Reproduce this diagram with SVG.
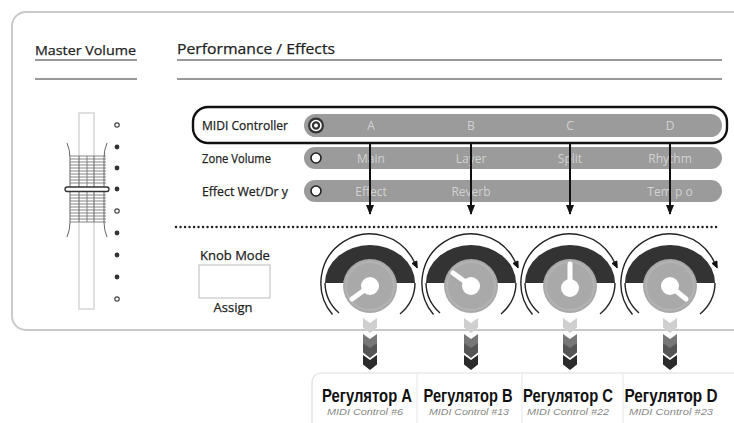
<svg xmlns="http://www.w3.org/2000/svg" width="734" height="423" viewBox="0 0 734 423">
<style>
.hum{font-family:"Open Sans","Noto Sans","DejaVu Sans",sans-serif;fill:#222;stroke:#222;stroke-width:0.25}
.barTxt{font-family:"Open Sans","Noto Sans",sans-serif;font-size:12px;fill:#d2d2d2;text-anchor:middle}
.bar{fill:#9b9b9b}
.thin{fill:none;stroke:#222;stroke-width:1.4}
.reg{font-family:"Liberation Sans Narrow","Liberation Sans",Arial,sans-serif;font-weight:bold;font-size:18px;fill:#111;text-anchor:middle}
.sub{font-family:"Liberation Sans",Arial,sans-serif;font-style:italic;font-size:9.5px;fill:#888;text-anchor:middle}
.dotF{fill:#333}
.dotH{fill:#fff;stroke:#444;stroke-width:1.2}
</style>
<defs>
<marker id="ah" markerWidth="10" markerHeight="8" refX="9" refY="4" orient="auto" markerUnits="userSpaceOnUse">
<path d="M0,0 L10,4 L0,8 Z" fill="#111"/>
</marker>
<g id="knobBase">
<path d="M-45,0 A45,38 0 0 1 45,0 Z" fill="#333"/>
<path d="M-37.5,31.5 A49,49 0 1 1 44.4,-20.7" class="thin"/>
<path d="M-45,0 A45,42 0 0 0 -31,30" class="thin"/>
<path d="M45,0 A45,42 0 0 1 30,31" class="thin"/>
<path d="M47.2,-15 L46.9,-22 L42,-19.6 Z" fill="#111" stroke="#111" stroke-width="1"/>
<circle cx="0" cy="3" r="27" fill="#a9a9a9"/>
<circle cx="0" cy="3" r="24" fill="none" stroke="#b3b3b3" stroke-width="2"/>
</g>
<path id="chev" d="M-7,0 L0,5 L7,0 L7,9.5 L0,15 L-7,9.5 Z"/>
</defs>

<rect x="12" y="12" width="760" height="318" rx="14" fill="#fff" stroke="#c9c9c9" stroke-width="2"/>

<g id="headers">
<text x="35" y="55" class="hum" font-size="13.5" textLength="101" lengthAdjust="spacingAndGlyphs">Master Volume</text>
<line x1="35" y1="60" x2="137" y2="60" stroke="#333" stroke-width="1"/>
<line x1="35" y1="79" x2="137" y2="79" stroke="#333" stroke-width="1"/>
<text x="177" y="54" class="hum" font-size="14.5" textLength="158" lengthAdjust="spacingAndGlyphs">Performance / Effects</text>
<line x1="177" y1="60" x2="722" y2="60" stroke="#333" stroke-width="1"/>
<line x1="177" y1="79" x2="722" y2="79" stroke="#333" stroke-width="1"/>
</g>

<g id="fader">
<rect x="79" y="113" width="15" height="196" fill="#fff" stroke="#ccc" stroke-width="1.2"/>
<g stroke="#777" stroke-width="0.9">
<line x1="70" y1="156" x2="106" y2="156"/><line x1="70" y1="159" x2="106" y2="159"/>
<line x1="70" y1="162" x2="106" y2="162"/><line x1="70" y1="165" x2="106" y2="165"/>
<line x1="70" y1="168" x2="106" y2="168"/><line x1="70" y1="171" x2="106" y2="171"/>
<line x1="70" y1="174" x2="106" y2="174"/><line x1="70" y1="177" x2="106" y2="177"/>
<line x1="70" y1="180" x2="106" y2="180"/><line x1="70" y1="183" x2="106" y2="183"/>
<line x1="70" y1="195" x2="106" y2="195"/><line x1="70" y1="198" x2="106" y2="198"/>
<line x1="70" y1="201" x2="106" y2="201"/><line x1="70" y1="204" x2="106" y2="204"/>
<line x1="70" y1="207" x2="106" y2="207"/><line x1="70" y1="210" x2="106" y2="210"/>
<line x1="70" y1="213" x2="106" y2="213"/><line x1="70" y1="216" x2="106" y2="216"/>
<line x1="70" y1="219" x2="106" y2="219"/><line x1="70" y1="222" x2="106" y2="222"/>
<line x1="87" y1="156" x2="87" y2="222"/>
<line x1="79" y1="156" x2="79" y2="222"/>
<line x1="94" y1="156" x2="94" y2="222"/>
</g>
<path d="M67,143 Q70,150 70,158 L70,222 Q70,230 67,237" fill="none" stroke="#666" stroke-width="1"/>
<path d="M107,143 Q104,150 104,158 L104,222 Q104,230 107,237" fill="none" stroke="#666" stroke-width="1"/>
<rect x="65" y="187" width="44" height="4.5" rx="2.2" fill="#fff" stroke="#333" stroke-width="1.3"/>
<circle cx="117" cy="125" r="2.2" class="dotH"/>
<circle cx="117" cy="147" r="2.4" class="dotF"/>
<circle cx="117" cy="168" r="2.4" class="dotF"/>
<circle cx="117" cy="189" r="2.4" class="dotF"/>
<circle cx="117" cy="211" r="2.2" class="dotH"/>
<circle cx="117" cy="233" r="2.4" class="dotF"/>
<circle cx="117" cy="255" r="2.4" class="dotF"/>
<circle cx="117" cy="277" r="2.4" class="dotF"/>
<circle cx="117" cy="299" r="2.2" class="dotH"/>
</g>

<g id="row-midi">
<rect x="304" y="114" width="418" height="23" rx="11.5" class="bar"/>
<circle cx="316" cy="125.5" r="8" fill="#333"/>
<circle cx="316" cy="125.5" r="5" fill="#333" stroke="#fff" stroke-width="1.6"/>
<circle cx="316" cy="125.5" r="2" fill="#fff"/>
<text x="202" y="130" class="hum" font-size="12.5" textLength="86" lengthAdjust="spacingAndGlyphs">MIDI Controller</text>
<text x="371" y="130" class="barTxt">A</text>
<text x="471" y="130" class="barTxt">B</text>
<text x="570" y="130" class="barTxt">C</text>
<text x="670" y="130" class="barTxt">D</text>
<rect x="193" y="107" width="534" height="36" rx="15" fill="none" stroke="#111" stroke-width="2.4"/>
</g>

<g id="row-zone">
<rect x="304" y="147" width="418" height="22" rx="11" class="bar"/>
<circle cx="316" cy="158" r="5" fill="#fff" stroke="#222" stroke-width="1.6"/>
<text x="202" y="162.5" class="hum" font-size="12.5" textLength="69" lengthAdjust="spacingAndGlyphs">Zone Volume</text>
<text x="371" y="162.5" class="barTxt">Main</text>
<text x="471" y="162.5" class="barTxt">Layer</text>
<text x="570" y="162.5" class="barTxt">Split</text>
<text x="670" y="162.5" class="barTxt">Rhythm</text>
</g>

<g id="row-effect">
<rect x="304" y="180" width="418" height="22" rx="11" class="bar"/>
<circle cx="316" cy="191" r="5" fill="#fff" stroke="#222" stroke-width="1.6"/>
<text x="202" y="195.5" class="hum" font-size="12.5" textLength="86" lengthAdjust="spacingAndGlyphs">Effect  Wet/Dr y</text>
<text x="371" y="195.5" class="barTxt">Effect</text>
<text x="471" y="195.5" class="barTxt">Reverb</text>
<text x="670" y="195.5" class="barTxt">Tem p o</text>
</g>

<g id="connectors" stroke="#111" stroke-width="2" fill="none">
<line x1="370" y1="143" x2="370" y2="214" marker-end="url(#ah)"/>
<line x1="471" y1="143" x2="471" y2="214" marker-end="url(#ah)"/>
<line x1="570" y1="143" x2="570" y2="214" marker-end="url(#ah)"/>
<line x1="670" y1="143" x2="670" y2="214" marker-end="url(#ah)"/>
</g>

<line x1="176" y1="227" x2="718" y2="227" stroke="#222" stroke-width="2.4" stroke-dasharray="0.1 4.4" stroke-linecap="round"/>

<g id="knob-mode">
<text x="235" y="260" class="hum" font-size="13" text-anchor="middle">Knob Mode</text>
<rect x="199" y="265" width="71" height="33" fill="#fff" stroke="#bbb" stroke-width="1"/>
<text x="233" y="312" class="hum" font-size="13" text-anchor="middle">Assign</text>
</g>

<g id="knob-a" transform="translate(370,283)">
<use href="#knobBase"/>
<circle cx="0" cy="3" r="9" fill="#fff"/>
<line x1="0" y1="3" x2="-18" y2="16" stroke="#fff" stroke-width="5" stroke-linecap="round"/>
</g>
<g id="knob-b" transform="translate(471,283)">
<use href="#knobBase"/>
<circle cx="0" cy="3" r="9" fill="#fff"/>
<line x1="0" y1="3" x2="-18" y2="-10" stroke="#fff" stroke-width="5" stroke-linecap="round"/>
</g>
<g id="knob-c" transform="translate(570,283)">
<use href="#knobBase"/>
<circle cx="0" cy="5" r="9" fill="#fff"/>
<line x1="0" y1="5" x2="0" y2="-19" stroke="#fff" stroke-width="5" stroke-linecap="round"/>
</g>
<g id="knob-d" transform="translate(670,283)">
<use href="#knobBase"/>
<circle cx="0" cy="3" r="9" fill="#fff"/>
<line x1="0" y1="3" x2="16" y2="16" stroke="#fff" stroke-width="5" stroke-linecap="round"/>
</g>

<g id="chevrons">
<g transform="translate(370,0)"><use href="#chev" y="318" fill="#cfcfcf"/><use href="#chev" y="334" fill="#777"/><use href="#chev" y="343" fill="#555"/><use href="#chev" y="355" fill="#2a2a2a"/></g>
<g transform="translate(471,0)"><use href="#chev" y="318" fill="#cfcfcf"/><use href="#chev" y="334" fill="#777"/><use href="#chev" y="343" fill="#555"/><use href="#chev" y="355" fill="#2a2a2a"/></g>
<g transform="translate(570,0)"><use href="#chev" y="318" fill="#cfcfcf"/><use href="#chev" y="334" fill="#777"/><use href="#chev" y="343" fill="#555"/><use href="#chev" y="355" fill="#2a2a2a"/></g>
<g transform="translate(670,0)"><use href="#chev" y="318" fill="#cfcfcf"/><use href="#chev" y="334" fill="#777"/><use href="#chev" y="343" fill="#555"/><use href="#chev" y="355" fill="#2a2a2a"/></g>
</g>

<g id="labels">
<rect x="312" y="373" width="440" height="80" rx="9" fill="#fff" stroke="#ddd" stroke-width="1.2"/>
<line x1="417" y1="374" x2="417" y2="423" stroke="#e6e6e6"/>
<line x1="522" y1="374" x2="522" y2="423" stroke="#e6e6e6"/>
<line x1="623" y1="374" x2="623" y2="423" stroke="#e6e6e6"/>
<text x="367" y="402" class="reg" textLength="90" lengthAdjust="spacingAndGlyphs">Регулятор A</text>
<text x="468" y="402" class="reg" textLength="89" lengthAdjust="spacingAndGlyphs">Регулятор B</text>
<text x="568" y="402" class="reg" textLength="90" lengthAdjust="spacingAndGlyphs">Регулятор C</text>
<text x="671" y="402" class="reg" textLength="93" lengthAdjust="spacingAndGlyphs">Регулятор D</text>
<text x="365" y="415" class="sub" textLength="76" lengthAdjust="spacingAndGlyphs">MIDI Control #6</text>
<text x="469" y="415" class="sub" textLength="80" lengthAdjust="spacingAndGlyphs">MIDI Control #13</text>
<text x="568" y="415" class="sub" textLength="82" lengthAdjust="spacingAndGlyphs">MIDI Control #22</text>
<text x="671" y="415" class="sub" textLength="84" lengthAdjust="spacingAndGlyphs">MIDI Control #23</text>
</g>
</svg>
